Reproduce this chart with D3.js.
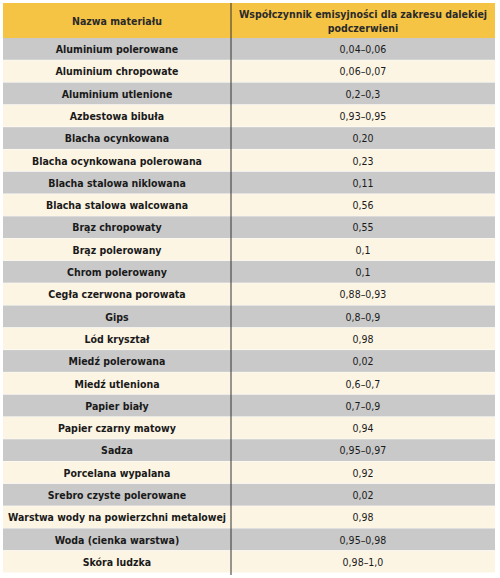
<!DOCTYPE html>
<html><head><meta charset="utf-8">
<script src="https://cdn.jsdelivr.net/npm/d3@7"></script>
<style>body{margin:0;background:#fff}</style>
</head><body>
<svg id="chart" width="500" height="578"></svg>
<script>
const headers = ["Nazwa materiału", "Współczynnik emisyjności dla zakresu dalekiej", "podczerwieni"];
const materials = ["Aluminium polerowane","Aluminium chropowate","Aluminium utlenione","Azbestowa bibuła","Blacha ocynkowana","Blacha ocynkowana polerowana","Blacha stalowa niklowana","Blacha stalowa walcowana","Brąz chropowaty","Brąz polerowany","Chrom polerowany","Cegła czerwona porowata","Gips","Lód kryształ","Miedź polerowana","Miedź utleniona","Papier biały","Papier czarny matowy","Sadza","Porcelana wypalana","Srebro czyste polerowane","Warstwa wody na powierzchni metalowej","Woda (cienka warstwa)","Skóra ludzka"];
const emissivity = ["0,04–0,06","0,06–0,07","0,2–0,3","0,93–0,95","0,20","0,23","0,11","0,56","0,55","0,1","0,1","0,88–0,93","0,8–0,9","0,98","0,02","0,6–0,7","0,7–0,9","0,94","0,95–0,97","0,92","0,02","0,98","0,95–0,98","0,98–1,0"];

const svg = d3.select("#chart");
const left = 3, mid = 231, right = 495, headTop = 3, headBottom = 38, bottom = 573;
const font = "'DejaVu Sans Condensed', sans-serif";

const y = d3.scaleBand().domain(d3.range(materials.length)).range([headBottom, bottom]);

// header
svg.append("rect").attr("x", left).attr("y", headTop).attr("width", right - left)
  .attr("height", headBottom - headTop).attr("fill", "#f6c445");
svg.append("text").attr("x", (left + mid) / 2).attr("y", 25).attr("text-anchor", "middle")
  .attr("font-family", font).attr("font-weight", "bold").attr("font-size", 10.5).attr("fill", "#2a2a2a").text(headers[0]);
svg.append("text").attr("x", (mid + right) / 2).attr("y", 18).attr("text-anchor", "middle")
  .attr("font-family", font).attr("font-weight", "bold").attr("font-size", 10.5).attr("fill", "#2a2a2a").text(headers[1]);
svg.append("text").attr("x", (mid + right) / 2).attr("y", 32).attr("text-anchor", "middle")
  .attr("font-family", font).attr("font-weight", "bold").attr("font-size", 10.5).attr("fill", "#2a2a2a").text(headers[2]);

// rows
const rows = svg.selectAll(".row").data(materials).enter().append("g").attr("class", "row");
rows.append("rect").attr("x", left).attr("y", (d, i) => y(i)).attr("width", right - left)
  .attr("height", y.bandwidth()).attr("fill", (d, i) => i % 2 === 0 ? "#c9c9c9" : "#fdf5e4");
rows.append("line").attr("x1", left).attr("x2", right)
  .attr("y1", (d, i) => y(i) + y.bandwidth()).attr("y2", (d, i) => y(i) + y.bandwidth())
  .attr("stroke", "#ffffff").attr("stroke-width", 1);
rows.append("text").attr("x", (left + mid) / 2).attr("y", (d, i) => y(i) + y.bandwidth() / 2 + 4)
  .attr("text-anchor", "middle").attr("font-family", font).attr("font-weight", "bold")
  .attr("font-size", 10.5).attr("fill", "#1a1a1a").text(d => d)
  .each(function () {
    const w = this.getComputedTextLength();
    if (w > 218) d3.select(this).attr("textLength", 218).attr("lengthAdjust", "spacingAndGlyphs");
  });
rows.append("text").attr("x", (mid + right) / 2).attr("y", (d, i) => y(i) + y.bandwidth() / 2 + 4)
  .attr("text-anchor", "middle").attr("font-family", font)
  .attr("font-size", 10.5).attr("fill", "#1a1a1a").text((d, i) => emissivity[i]);

// column divider
svg.append("line").attr("x1", mid).attr("x2", mid).attr("y1", headTop).attr("y2", bottom + 2)
  .attr("stroke", "#333").attr("stroke-width", 1);
</script>
</body></html>
